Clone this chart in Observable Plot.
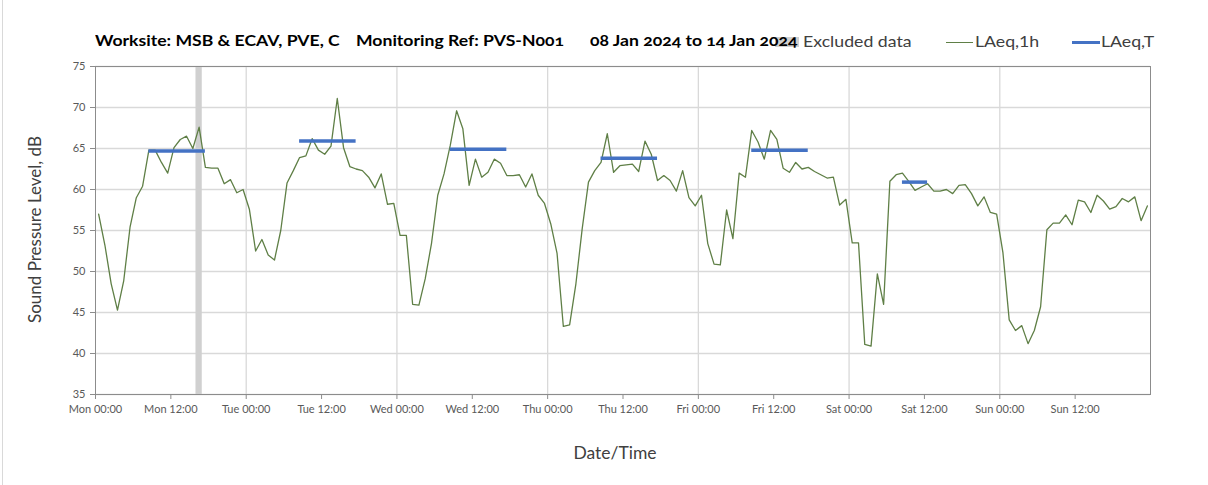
<!DOCTYPE html>
<html><head><meta charset="utf-8">
<script src="https://cdn.jsdelivr.net/npm/d3@7"></script>
<script src="https://cdn.jsdelivr.net/npm/@observablehq/plot@0.6"></script>
<style>
body{margin:0;background:#fff;font-family:Lato,"Open Sans",sans-serif;}
#wrap{position:relative;width:1208px;height:485px;overflow:hidden;background:#fff}
#border{position:absolute;left:2px;top:0;bottom:0;width:1px;background:#d9d9d9}
.t{position:absolute;top:30px;font-weight:bold;font-size:16px;color:#000;white-space:nowrap;font-variant-numeric:oldstyle-nums;z-index:3;transform:scaleX(1.1);transform-origin:0 50%}
.lg{position:absolute;top:32px;font-size:15px;color:#404040;white-space:nowrap;z-index:2;transform:scaleX(1.18);transform-origin:0 50%}
.sw{position:absolute;z-index:1}
#chart{position:absolute;left:0;top:50px;}
</style>
</head><body>
<div id="wrap">
  <div id="border"></div>
  <div class="t" style="left:95px">Worksite: MSB &amp; ECAV, PVE, C</div>
  <div class="t" style="left:356px">Monitoring Ref: PVS-N001</div>
  <div class="t" style="left:590px">08 Jan 2024 to 14 Jan 2024</div>
  <div class="sw" style="left:775px;top:37px;width:24px;height:10px;background:#d0d0d0"></div>
  <div class="lg" style="left:803px">Excluded data</div>
  <div class="sw" style="left:946px;top:41.5px;width:27px;height:1.5px;background:#5f7f46"></div>
  <div class="lg" style="left:975px">LAeq,1h</div>
  <div class="sw" style="left:1072px;top:40.5px;width:28px;height:3.5px;background:#4472c4"></div>
  <div class="lg" style="left:1101px">LAeq,T</div>
  <div id="chart"></div>
</div>
<script>
// Hourly LAeq,1h values (dB), one per hour, Mon 00:00 .. Sun 23:00
const mon = [57.0,53.2,48.5,45.3,48.9,55.4,59.0,60.4,64.8,64.8,63.3,62.0,65.1,66.1,66.5,65.0,67.6,62.7,62.6,62.6,60.7,61.2,59.6,60.0];
const tue = [57.6,52.5,53.9,52.0,51.4,55.0,60.8,62.3,63.9,64.1,66.2,64.8,64.3,65.3,71.1,65.1,62.8,62.5,62.3,61.5,60.2,61.9,58.2,58.3];
const wed = [54.4,54.4,46.0,45.9,49.1,53.4,59.3,61.9,65.4,69.6,67.4,60.5,63.7,61.5,62.1,63.7,63.2,61.7,61.7,61.8,60.3,61.9,59.3,58.3];
const thu = [55.8,52.2,43.3,43.5,48.5,55.2,60.9,62.3,63.3,66.8,62.1,62.9,63.0,63.1,62.2,65.9,64.3,61.1,61.7,61.1,59.8,62.3,59.0,58.0];
const fri = [59.3,53.4,50.9,50.8,57.5,54.0,62.0,61.5,67.2,65.8,63.7,67.2,66.1,62.6,62.1,63.3,62.5,62.7,62.2,61.8,61.4,61.5,58.1,58.8];
const sat = [53.5,53.5,41.1,40.9,49.7,46.0,61.0,61.8,62.0,61.0,59.9,60.3,60.7,59.8,59.8,60.0,59.5,60.5,60.6,59.5,58.0,59.1,57.2,57.0];
const sun = [52.3,44.1,42.8,43.4,41.2,42.8,45.7,55.1,55.9,55.9,56.9,55.7,58.7,58.5,57.2,59.3,58.6,57.6,57.9,58.9,58.5,59.1,56.2,58.0];
const hourly = [...mon, ...tue, ...wed, ...thu, ...fri, ...sat, ...sun];

// LAeq,T periods (hours from Mon 00:00)
const periodStart = [8.5, 32.5, 56.5, 80.5, 104.5, 128.5];
const periodEnd   = [17.5, 41.5, 65.5, 89.5, 113.5, 132.5];
const periodValue = [64.7, 65.9, 64.9, 63.8, 64.8, 60.9];

// Excluded data window (hours from Mon 00:00)
const excludedStart = [16];
const excludedEnd = [17];

// Axis ticks
const xTickHours = [0,12,24,36,48,60,72,84,96,108,120,132,144,156];
const xTickLabels = ["Mon 00:00","Mon 12:00","Tue 00:00","Tue 12:00","Wed 00:00","Wed 12:00","Thu 00:00","Thu 12:00","Fri 00:00","Fri 12:00","Sat 00:00","Sat 12:00","Sun 00:00","Sun 12:00"];
const dayHours = [24,48,72,96,120,144];
const yTicks = [35,40,45,50,55,60,65,70,75];

const lineData = hourly.map((v,i)=>({h: i + 0.5, v}));
const periods = periodValue.map((v,i)=>({start: periodStart[i], end: periodEnd[i], v}));
const excluded = excludedStart.map((s,i)=>({start: s, end: excludedEnd[i]}));

const chart = Plot.plot({
  width: 1208, height: 435,
  marginLeft: 95, marginRight: 58, marginTop: 16, marginBottom: 91,
  style: {fontFamily: "Lato, sans-serif", fontSize: "11px", color: "#595959", background: "transparent"},
  x: {domain: [0,168]},
  y: {domain: [35,75]},
  marks: [
    Plot.ruleY(yTicks, {stroke: "#d9d9d9", strokeWidth: 1.3}),
    Plot.ruleX(dayHours, {stroke: "#d9d9d9", strokeWidth: 1.3}),
    Plot.rect(excluded, {x1: "start", x2: "end", fill: "#d0d0d0"}),
    Plot.line(lineData, {x: "h", y: "v", stroke: "#5f7f46", strokeWidth: 1.3}),
    Plot.ruleY(periods, {x1: "start", x2: "end", y: "v", stroke: "#4472c4", strokeWidth: 3.5}),
    Plot.frame({stroke: "#8c8c8c"}),
    Plot.axisX({ticks: xTickHours, tickFormat: d => xTickLabels[xTickHours.indexOf(d)], tickSize: 5, tickPadding: 6, stroke: "#8c8c8c", label: null}),
    Plot.axisY({ticks: yTicks, tickFormat: d => String(d), tickSize: 5, tickPadding: 5, stroke: "#8c8c8c", label: null}),
    Plot.text(["Sound Pressure Level, dB"], {text: d => d, frameAnchor: "left", textAnchor: "middle", lineAnchor: "middle", rotate: -90, dx: -60, dy: -1, fontSize: 17, fill: "#404040"}),
    Plot.text(["Date/Time"], {text: d => d, frameAnchor: "bottom", textAnchor: "middle", lineAnchor: "middle", dx: -8, dy: 59, fontSize: 17.5, fill: "#404040"})
  ]
});
document.getElementById("chart").appendChild(chart);
</script>
</body></html>
